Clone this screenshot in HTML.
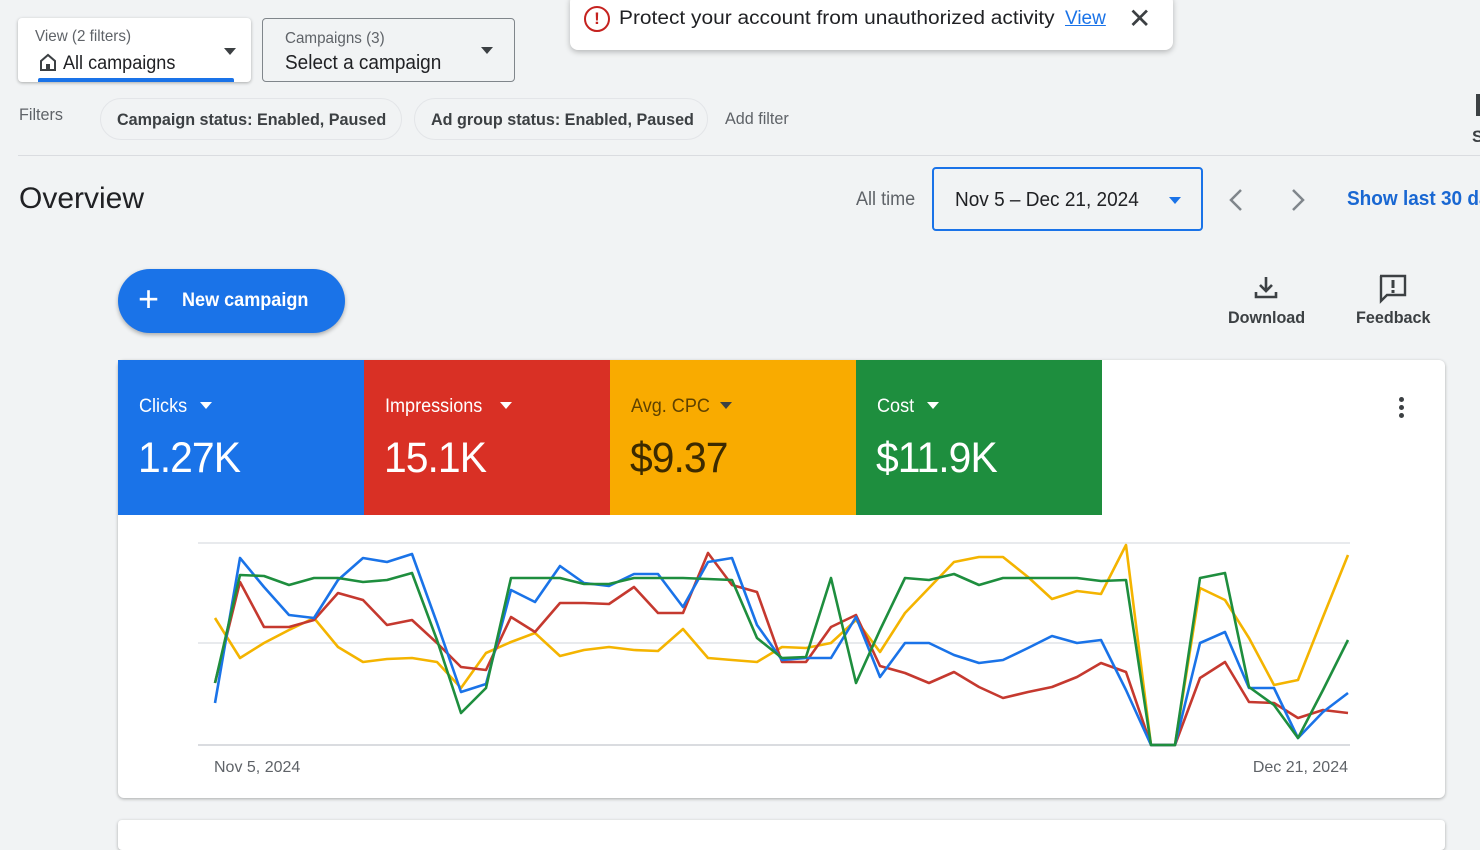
<!DOCTYPE html>
<html><head><meta charset="utf-8">
<style>
*{box-sizing:border-box;margin:0;padding:0}
body{width:1480px;height:833px;overflow:hidden;background:#f1f3f4;font-family:"Liberation Sans",sans-serif;color:#3c4043;position:relative}
.abs{position:absolute}
.cond{display:inline-block;transform:scaleX(0.95);transform-origin:left center;white-space:nowrap}
.box{background:#fff;border-radius:4px}
.chip{position:absolute;top:98px;height:42px;border:1px solid #e3e5e8;border-radius:21px;background:#f1f3f4;font-size:17px;font-weight:bold;color:#3c4043;padding:11px 16px;white-space:nowrap}
.tri{position:absolute;width:0;height:0;border-left:6px solid transparent;border-right:6px solid transparent;border-top:7px solid #3c4043}
.tile{position:absolute;top:360px;height:155px;width:246px;color:#fff}
.tile .l{position:absolute;left:21px;top:36px;font-size:19px}
.tile .v{position:absolute;left:20px;top:74px;font-size:43px;letter-spacing:-1px}
.tile .t{position:absolute;top:42px;width:0;height:0;border-left:6px solid transparent;border-right:6px solid transparent;border-top:7px solid #fff}
</style></head><body>

<div class="abs box" style="left:18px;top:18px;width:233px;height:64px;box-shadow:0 1px 3px rgba(0,0,0,.3)">
  <div class="abs" style="left:17px;top:10px;font-size:16px;color:#5f6368"><span class="cond">View (2 filters)</span></div>
  <div class="abs" style="left:20px;top:34px;font-size:19px;color:#202124">
    <svg width="20" height="20" viewBox="0 0 20 20" style="vertical-align:-3px"><path d="M3 9 L10 3 L17 9 L17 18 L3 18 Z" fill="none" stroke="#3c4043" stroke-width="2"/><rect x="8" y="12" width="4" height="6" fill="#3c4043"/></svg>
    <span class="cond">All campaigns</span></div>
  <div class="tri" style="left:206px;top:30px"></div>
  <div class="abs" style="left:20px;top:60px;width:196px;height:4px;background:#1a73e8;border-radius:2px 2px 0 0"></div>
</div>
<div class="abs" style="left:262px;top:18px;width:253px;height:64px;border:1px solid #80868b;border-radius:4px;background:#f1f3f4">
  <div class="abs" style="left:22px;top:11px;font-size:16px;color:#5f6368"><span class="cond">Campaigns (3)</span></div>
  <div class="abs" style="left:22px;top:33px;font-size:20px;color:#202124"><span class="cond">Select a campaign</span></div>
  <div class="tri" style="left:218px;top:28px"></div>
</div>

<div class="abs box" style="left:570px;top:-6px;width:603px;height:56px;box-shadow:0 2px 6px rgba(0,0,0,.25);border-radius:8px">
  <div class="abs" style="left:14px;top:12px;width:26px;height:26px;border:2px solid #c5221f;border-radius:50%;color:#c5221f;font-weight:bold;text-align:center;font-size:17px;line-height:22px">!</div>
  <div class="abs" style="left:49px;top:14px;font-size:19px;color:#202124;white-space:nowrap;transform:scaleX(1.1);transform-origin:left center">Protect your account from unauthorized activity</div>
  <div class="abs" style="left:495px;top:14px;font-size:19px;color:#1a73e8;text-decoration:underline">View</div>
  <div class="abs" style="left:558px;top:8px;font-size:28px;color:#3c4043">✕</div>
</div>

<div class="abs" style="left:19px;top:105px;font-size:17px;color:#5f6368"><span class="cond">Filters</span></div>
<div class="chip" style="left:100px;width:302px"><span class="cond">Campaign status: Enabled, Paused</span></div>
<div class="chip" style="left:414px;width:294px"><span class="cond">Ad group status: Enabled, Paused</span></div>
<div class="abs" style="left:725px;top:109px;font-size:17px;color:#5f6368"><span class="cond">Add filter</span></div>
<div class="abs" style="left:1476px;top:94px;width:4px;height:22px;background:#3c4043"></div>
<div class="abs" style="left:1472px;top:127px;font-size:17px;font-weight:bold">S</div>
<div class="abs" style="left:18px;top:155px;width:1462px;height:1px;background:#dadce0"></div>

<div class="abs" style="left:19px;top:182px;font-size:30px;color:#202124;white-space:nowrap">Overview</div>
<div class="abs" style="left:856px;top:189px;font-size:19px;color:#5f6368"><span class="cond">All time</span></div>
<div class="abs" style="left:932px;top:167px;width:271px;height:64px;border:2px solid #1a73e8;border-radius:4px;background:#f1f3f4">
  <div class="abs" style="left:21px;top:20px;font-size:20px;color:#202124"><span class="cond">Nov 5 – Dec 21, 2024</span></div>
  <div class="tri" style="left:235px;top:28px;border-top-color:#1a73e8"></div>
</div>
<svg class="abs" style="left:1225px;top:187px" width="90" height="26"><path d="M16 3 L6 13 L16 23" fill="none" stroke="#80868b" stroke-width="2.5"/><path d="M68 3 L78 13 L68 23" fill="none" stroke="#80868b" stroke-width="2.5"/></svg>
<div class="abs" style="left:1347px;top:188px;font-size:20px;font-weight:bold;color:#1967d2;white-space:nowrap"><span class="cond">Show last 30 days</span></div>

<div class="abs" style="left:118px;top:269px;width:227px;height:64px;border-radius:32px;background:#1a73e8;box-shadow:0 2px 4px rgba(0,0,0,.3)">
  <div class="abs" style="left:20px;top:8px;font-size:36px;color:#fff;line-height:44px">+</div>
  <div class="abs" style="left:64px;top:21px;font-size:19px;font-weight:bold;color:#fff"><span class="cond">New campaign</span></div>
</div>
<svg class="abs" style="left:1253px;top:275px" width="26" height="26"><path d="M13 2 V16 M7 10 L13 16 L19 10" fill="none" stroke="#3c4043" stroke-width="2.6"/><path d="M3 17 V22 H23 V17" fill="none" stroke="#3c4043" stroke-width="2.6"/></svg>
<div class="abs" style="left:1228px;top:308px;font-size:17px;font-weight:bold;color:#3c4043"><span class="cond">Download</span></div>
<svg class="abs" style="left:1378px;top:274px" width="30" height="30"><path d="M2 2 H27 V21 H9 L3 27 V2 Z" fill="none" stroke="#3c4043" stroke-width="2.4"/><rect x="13.5" y="6" width="3" height="8" fill="#3c4043"/><rect x="13.5" y="16" width="3" height="3" fill="#3c4043"/></svg>
<div class="abs" style="left:1356px;top:308px;font-size:17px;font-weight:bold;color:#3c4043"><span class="cond">Feedback</span></div>

<div class="abs box" style="left:118px;top:360px;width:1327px;height:438px;box-shadow:0 1px 3px rgba(0,0,0,.3);border-radius:6px;overflow:hidden">
</div>
<div class="tile" style="left:118px;background:#1a73e8"><div class="l"><span class="cond">Clicks</span></div><div class="t" style="left:82px"></div><div class="v"><span class="cond">1.27K</span></div></div>
<div class="tile" style="left:364px;background:#d93025"><div class="l"><span class="cond">Impressions</span></div><div class="t" style="left:136px"></div><div class="v"><span class="cond">15.1K</span></div></div>
<div class="tile" style="left:610px;background:#f9ab00"><div class="l" style="color:#5f4200"><span class="cond">Avg. CPC</span></div><div class="t" style="left:110px;border-top-color:#3c4043"></div><div class="v" style="color:#3c2a00"><span class="cond">$9.37</span></div></div>
<div class="tile" style="left:856px;background:#1e8e3e"><div class="l"><span class="cond">Cost</span></div><div class="t" style="left:71px"></div><div class="v"><span class="cond">$11.9K</span></div></div>
<div class="abs" style="left:1399px;top:397px;width:5px;height:5px;background:#3c4043;border-radius:50%;box-shadow:0 8px 0 #3c4043,0 16px 0 #3c4043"></div>

<svg class="abs" style="left:0;top:0" width="1480" height="833">
  <line x1="198" y1="543" x2="1350" y2="543" stroke="#e8eaed" stroke-width="2"/>
  <line x1="198" y1="643" x2="1350" y2="643" stroke="#e8eaed" stroke-width="2"/>
  <line x1="198" y1="745" x2="1350" y2="745" stroke="#dadce0" stroke-width="2"/>
  <g fill="none" stroke-width="2.6" stroke-linejoin="round">
  <polyline stroke="#f4b400" points="215,618 240,658 264,643 289,630 314,618 338,647 363,662 387,659 412,658 437,662 461,688 486,653 511,642 535,633 560,656 584,650 609,647 634,650 658,651 683,629 708,658 732,660 757,662 782,647 806,648 831,643 856,620 880,652 905,613 929,588 954,562 979,557 1003,557 1028,577 1052,599 1077,591 1101,594 1126,545 1151,745 1175,745 1200,588 1225,600 1249,638 1274,685 1298,680 1323,617 1348,555"/>
  <polyline stroke="#c5392f" points="215,683 240,582 264,627 289,627 314,620 338,593 363,600 387,625 412,620 437,643 461,667 486,670 511,617 535,632 560,603 584,603 609,604 634,587 658,613 683,613 708,553 732,585 757,592 782,662 806,662 831,627 856,615 880,666 905,673 929,683 954,672 979,687 1003,698 1028,692 1052,687 1077,677 1101,663 1126,672 1151,745 1175,745 1200,678 1225,662 1249,702 1274,703 1298,718 1323,710 1348,713"/>
  <polyline stroke="#1a73e8" points="215,703 240,558 264,587 289,615 314,618 338,580 363,558 387,562 412,554 437,623 461,692 486,684 511,590 535,602 560,566 584,583 609,586 634,574 658,574 683,607 708,562 732,558 757,625 782,660 806,658 831,658 856,617 880,677 905,643 929,643 954,655 979,663 1003,660 1028,648 1052,636 1077,643 1101,640 1126,690 1151,745 1175,745 1200,643 1225,632 1249,688 1274,688 1298,738 1323,712 1348,693"/>
  <polyline stroke="#1e8e3e" points="215,683 240,575 264,576 289,585 314,578 338,578 363,582 387,580 412,573 437,640 461,713 486,688 511,578 535,578 560,578 584,584 609,584 634,578 658,578 683,578 708,579 732,580 757,638 782,658 806,657 831,578 856,683 880,630 905,578 929,580 954,574 979,585 1003,578 1028,578 1052,578 1077,578 1101,581 1126,580 1151,745 1175,745 1200,578 1225,573 1249,687 1274,705 1298,738 1323,690 1348,640"/>
  </g>
  <text x="214" y="772" font-family="Liberation Sans" font-size="16" fill="#5f6368">Nov 5, 2024</text>
  <text x="1348" y="772" font-family="Liberation Sans" font-size="16" fill="#5f6368" text-anchor="end">Dec 21, 2024</text>
</svg>

<div class="abs box" style="left:118px;top:820px;width:1327px;height:30px;box-shadow:0 1px 3px rgba(0,0,0,.3)"></div>
</body></html>
